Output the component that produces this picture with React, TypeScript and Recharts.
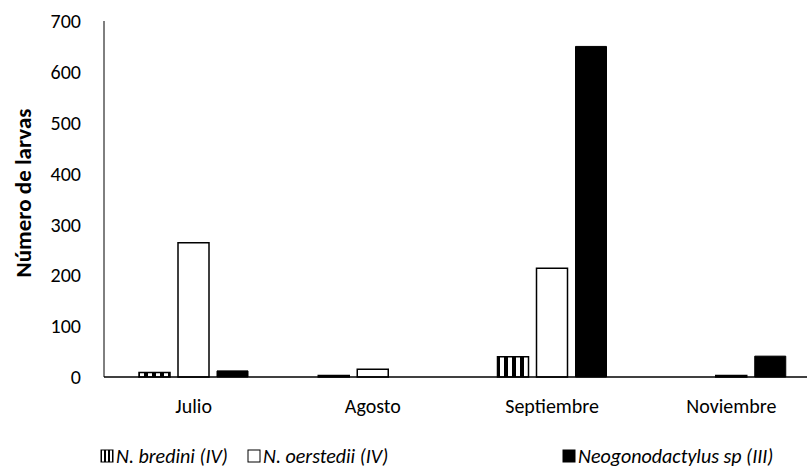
import React from "react";
import { BarChart, Bar, XAxis, YAxis, Legend } from "recharts";

const categories = ["Julio", "Agosto", "Septiembre", "Noviembre"];
const bredini = [9, 3, 40, 0];
const oerstedii = [264, 15, 214, 3];
const neogonodactylus = [12, 0, 650, 41];
const yTicks = [0, 100, 200, 300, 400, 500, 600, 700];
const seriesNames = ["N. bredini (IV)", "N. oerstedii (IV)", "Neogonodactylus sp (III)"];

const data = categories.map((c, i) => ({
  name: c,
  bredini: bredini[i],
  oerstedii: oerstedii[i],
  neo: neogonodactylus[i],
}));

const FONT = "Carlito, Calibri, Lato, sans-serif";

const LegendContent = () => {
  const items = [
    { label: seriesNames[0], kind: "stripe", x: 100 },
    { label: seriesNames[1], kind: "white", x: 247 },
    { label: seriesNames[2], kind: "black", x: 562 },
  ];
  return (
    <svg width={807} height={34} style={{ display: "block" }}>
      <defs>
        <pattern id="legStripe" patternUnits="userSpaceOnUse" width="4" height="4">
          <rect x="0" y="0" width="2" height="4" fill="#000" />
        </pattern>
      </defs>
      {items.map((it) => (
        <g key={it.label}>
          <rect
            x={it.x + 1}
            y={10}
            width={12}
            height={12}
            fill={it.kind === "stripe" ? "url(#legStripe)" : it.kind === "white" ? "#fff" : "#000"}
            stroke="#000"
            strokeWidth={1}
          />
          <text x={it.x + 16} y={23} fontSize={20} fontStyle="italic" fontFamily={FONT} fill="#000">
            {it.label}
          </text>
        </g>
      ))}
    </svg>
  );
};

export default function App() {
  return (
    <div style={{ position: "absolute", left: 0, top: 0, width: 807, height: 474, overflow: "hidden", background: "#fff" }}>
      <BarChart
        width={830}
        height={474}
        data={data}
        margin={{ top: 21, right: 9, bottom: 0, left: 0 }}
        barGap={8}
        barSize={31}
      >
        <defs>
          <pattern id="stripes" patternUnits="userSpaceOnUse" width="8" height="8">
            <rect x="0" y="0" width="4" height="8" fill="#000" />
            <rect x="4" y="0" width="4" height="8" fill="#fff" />
          </pattern>
        </defs>
        <XAxis
          dataKey="name"
          axisLine={{ stroke: "#000", strokeWidth: 1.5 }}
          tickLine={false}
          tick={{ fill: "#000", fontSize: 20, fontFamily: FONT }}
          tickMargin={16}
          height={63}
        />
        <YAxis
          domain={[0, 700]}
          ticks={yTicks}
          interval={0}
          axisLine={{ stroke: "#000", strokeWidth: 1 }}
          tickLine={false}
          width={104}
          tickMargin={17}
          tick={{ fill: "#000", fontSize: 20, fontFamily: FONT }}
          label={{
            value: "Número de larvas",
            angle: -90,
            position: "insideLeft",
            dx: 18,
            dy: -6,
            style: { textAnchor: "middle", fontSize: 23, fontWeight: "bold", fontFamily: FONT, fill: "#000" },
          }}
        />
        <Legend verticalAlign="bottom" align="left" content={<LegendContent />} wrapperStyle={{ left: 0, bottom: 0, width: 807, height: 34 }} />
        <Bar dataKey="bredini" name={seriesNames[0]} fill="url(#stripes)" stroke="#000" strokeWidth={1.5} isAnimationActive={false} />
        <Bar dataKey="oerstedii" name={seriesNames[1]} fill="#fff" stroke="#000" strokeWidth={1.5} isAnimationActive={false} />
        <Bar dataKey="neo" name={seriesNames[2]} fill="#000" stroke="#000" strokeWidth={1} isAnimationActive={false} />
      </BarChart>
    </div>
  );
}
